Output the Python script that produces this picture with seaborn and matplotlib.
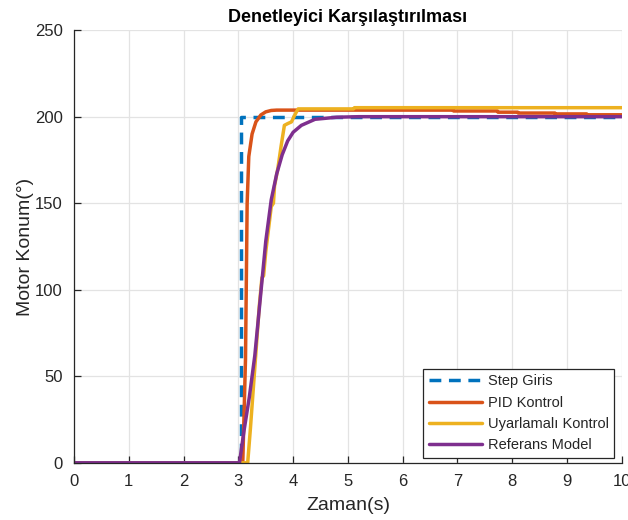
import matplotlib
matplotlib.use("Agg")
import matplotlib.pyplot as plt
import seaborn as sns
import pandas as pd

# ---- data ----
step_t = [0, 3.04, 3.04, 10]
step_y = [0, 0, 200, 200]

pid_t = [0, 3.08, 3.13, 3.16, 3.19, 3.25, 3.32, 3.41, 3.5, 3.6, 3.7,
         6.92, 6.93, 7.73, 7.74, 8.1, 8.11, 8.78, 8.79, 9.36, 9.37, 10]
pid_y = [0, 0, 60, 150, 177, 190, 197, 201, 202.8, 203.6, 203.8,
         203.8, 203.3, 203.3, 202.6, 202.6, 202.1, 202.1, 201.6, 201.6, 201.1, 201.1]

ada_t = [0, 3.17, 3.22, 3.3, 3.38, 3.43, 3.46, 3.5, 3.55, 3.6, 3.64, 3.66,
         3.72, 3.78, 3.84, 3.9, 3.97, 4.03, 4.09, 5.1, 5.12, 10]
ada_y = [0, 0, 20, 55, 90, 107, 108, 122, 135, 148, 150, 160,
         170, 183, 195, 196, 197, 201, 204.5, 204.5, 205.2, 205.2]

ref_t = [0, 3.02, 3.1, 3.2, 3.3, 3.4, 3.5, 3.6, 3.7, 3.8, 3.9, 4.0,
         4.15, 4.4, 4.8, 5.2, 10]
ref_y = [0, 0, 18, 38, 62, 95, 128, 152, 167, 178, 186, 191,
         195, 198.5, 199.7, 200, 200]

labels = ["Step Giris", "PID Kontrol", "Uyarlamalı Kontrol", "Referans Model"]
colors = ["#0072BD", "#D95319", "#EDB120", "#7E2F8E"]
x_ticks = list(range(0, 11))
y_ticks = [0, 50, 100, 150, 200, 250]

sns.set_theme(style="white")
plt.rcParams["font.family"] = ["Liberation Sans", "DejaVu Sans"]

fig = plt.figure(figsize=(6.28, 5.2), dpi=100)
ax = fig.add_axes([0.118, 0.110, 0.872, 0.832])

series = [(step_t, step_y), (pid_t, pid_y), (ada_t, ada_y), (ref_t, ref_y)]
for i in range(4):
    t, y = series[i]
    df = pd.DataFrame({"t": t, "y": y})
    line_kw = dict(dashes=(3.4, 2.2)) if i == 0 else {}
    sns.lineplot(data=df, x="t", y="y", ax=ax, color=colors[i], lw=2.5,
                 estimator=None, sort=False, label=labels[i], **line_kw)

ax.set_xlim(0, 10)
ax.set_ylim(0, 250)
ax.set_xticks(x_ticks)
ax.set_yticks(y_ticks)
ax.grid(True, color="#e3e3e3", lw=0.9)
ax.set_axisbelow(True)
for s in ["top", "right"]:
    ax.spines[s].set_visible(False)
for s in ["left", "bottom"]:
    ax.spines[s].set_color("#262626")
    ax.spines[s].set_linewidth(0.9)
ax.tick_params(direction="in", length=5, width=0.9, colors="#262626",
               labelsize=12, bottom=True, left=True, pad=8)
ax.set_xlabel("Zaman(s)", fontsize=14, color="#262626", labelpad=6)
ax.set_ylabel("Motor Konum(°)", fontsize=14, color="#262626", labelpad=1)
ax.set_title("Denetleyici Karşılaştırılması", fontsize=13, fontweight="bold",
             color="black", pad=6)

leg = ax.legend(loc="lower right", bbox_to_anchor=(0.992, 0.004), fontsize=10.5,
                frameon=True, fancybox=False, edgecolor="#262626", framealpha=1,
                handlelength=3.6, borderpad=0.4, labelspacing=0.5,
                handletextpad=0.4, borderaxespad=0.2)
leg.get_frame().set_linewidth(0.9)

fig.savefig("out.png", dpi=100)
